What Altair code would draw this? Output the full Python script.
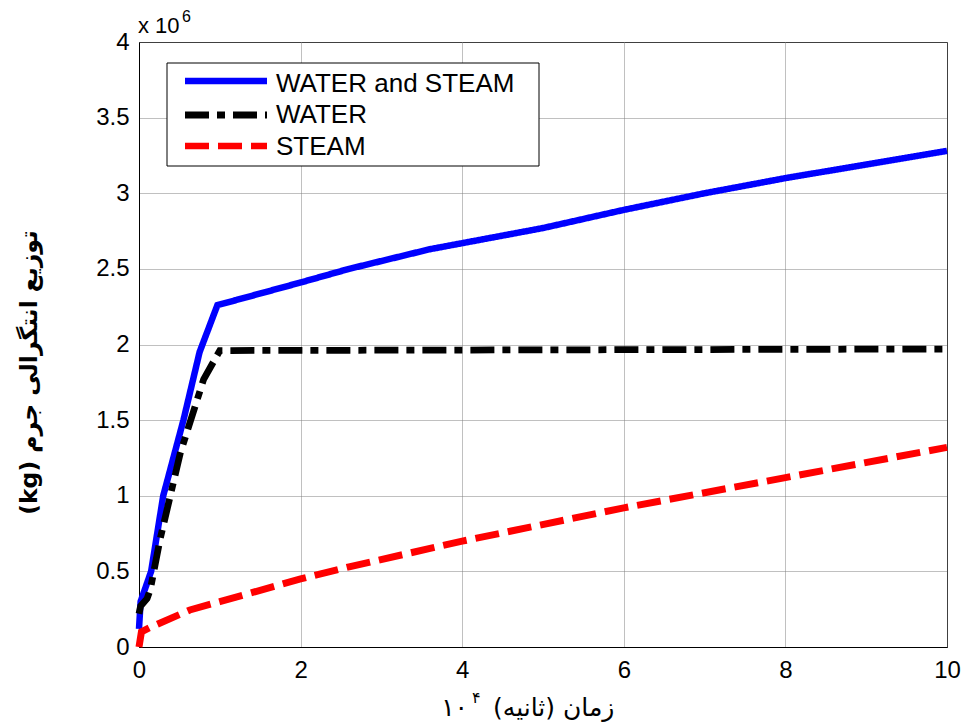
import altair as alt
import pandas as pd

# ---- data (time in 10^4 s, mass in 10^6 kg) ----
series_names = ["WATER and STEAM", "WATER", "STEAM"]

ws_t = [0.0, 0.02, 0.15, 0.30, 0.55, 0.75, 0.97, 2.0, 2.6, 3.6, 5.0, 6.0, 7.0, 8.0, 9.0, 10.0]
ws_m = [0.12, 0.30, 0.50, 1.00, 1.50, 1.95, 2.26, 2.41, 2.50, 2.63, 2.77, 2.89, 3.00, 3.10, 3.19, 3.28]

w_t = [0.0, 0.02, 0.10, 0.14, 0.26, 0.51, 0.80, 1.00, 10.0]
w_m = [0.22, 0.27, 0.32, 0.38, 0.71, 1.28, 1.77, 1.96, 1.97]

s_t = [0.0, 0.03, 0.14, 0.63, 1.0, 2.0, 2.6, 4.0, 6.0, 8.0, 10.0]
s_m = [0.0, 0.10, 0.13, 0.245, 0.30, 0.45, 0.53, 0.70, 0.92, 1.12, 1.32]

x_ticks = [0, 2, 4, 6, 8, 10]
y_ticks = [0, 0.5, 1, 1.5, 2, 2.5, 3, 3.5, 4]

colors = ["#0000ff", "#000000", "#ff0000"]
dashes = [[1, 0], [24, 8, 8, 8], [24, 9]]
widths = [6.5, 7.0, 6.5]

rows = []
for name, ts, ms in zip(series_names, [ws_t, w_t, s_t], [ws_m, w_m, s_m]):
    for i, (t, m) in enumerate(zip(ts, ms)):
        rows.append({"series": name, "t": t, "m": m, "i": i})
df = pd.DataFrame(rows)

W, H = 808, 605
TICK_FONT = "Liberation Sans"
TICK_SIZE = 24

lines = alt.Chart(df).mark_line(strokeCap="butt", strokeJoin="miter").encode(
    x=alt.X("t:Q",
            scale=alt.Scale(domain=[0, 10], nice=False, zero=False),
            axis=alt.Axis(values=x_ticks, title=None, labelExpr="datum.value + ''",
                          labelFont=TICK_FONT, labelFontSize=TICK_SIZE, labelColor="black",
                          labelPadding=11, labelFlush=False, ticks=False, tickSize=0,
                          domainColor="black", grid=True, gridColor="#808080",
                          gridDash=[1, 1], gridWidth=1)),
    y=alt.Y("m:Q",
            scale=alt.Scale(domain=[0, 4], nice=False, zero=False),
            axis=alt.Axis(values=y_ticks, labelExpr="datum.value + ''",
                          title="(kg) توزیع انتگرالی جرم",
                          titleFont="DejaVu Sans", titleFontSize=23.5, titleFontWeight="bold",
                          titleColor="black", titleAngle=270, titleX=-110, titleY=330,
                          titleAlign="center", titleBaseline="middle",
                          labelFont=TICK_FONT, labelFontSize=TICK_SIZE, labelColor="black",
                          labelPadding=10, labelFlush=False, ticks=False, tickSize=0,
                          domainColor="black", grid=True, gridColor="#808080",
                          gridDash=[1, 1], gridWidth=1)),
    color=alt.Color("series:N", scale=alt.Scale(domain=series_names, range=colors), legend=None),
    strokeDash=alt.StrokeDash("series:N", scale=alt.Scale(domain=series_names, range=dashes), legend=None),
    strokeWidth=alt.StrokeWidth("series:N", scale=alt.Scale(domain=series_names, range=widths), legend=None),
    order="i:Q",
)

# ---- manual legend ----
leg_box = alt.Chart(pd.DataFrame({"a": [0]})).mark_rect(
    fill="white", stroke="black", strokeWidth=1
).encode(x=alt.value(28), x2=alt.value(400), y=alt.value(21), y2=alt.value(124))

leg_rows_y = [39, 73, 104]
leg_text_y = [50, 81, 113]
legend_layers = [leg_box]
for name, c, d, w, ly, ty in zip(series_names, colors, dashes, widths, leg_rows_y, leg_text_y):
    legend_layers.append(
        alt.Chart(pd.DataFrame({"a": [0]})).mark_rule(
            color=c, strokeDash=d, strokeWidth=w, strokeCap="butt"
        ).encode(x=alt.value(46), x2=alt.value(128), y=alt.value(ly))
    )
    legend_layers.append(
        alt.Chart(pd.DataFrame({"a": [0]})).mark_text(
            text=name, font=TICK_FONT, fontSize=26, align="left", baseline="alphabetic", color="black"
        ).encode(x=alt.value(137), y=alt.value(ty))
    )

# ---- exponent labels and x title ----
def txt(s, x, y, size, align="left", font=TICK_FONT):
    return alt.Chart(pd.DataFrame({"a": [0]})).mark_text(
        text=s, font=font, fontSize=size, align=align, baseline="alphabetic", color="black"
    ).encode(x=alt.value(x), y=alt.value(y))

annot = [
    txt("x 10", -1, -9, 22),
    txt("6", 43, -20, 16),
    txt("زمان (ثانیه)", 354, 674, 25, font="DejaVu Sans"),
    txt("۱۰", 329, 674, 25, align="right", font="DejaVu Sans"),
    txt("۴", 333, 661, 16, font="DejaVu Sans"),
]

chart = alt.layer(lines, *legend_layers, *annot).properties(
    width=W, height=H,
    autosize=alt.AutoSizeParams(type="none"),
    padding={"left": 139, "top": 42, "right": 18, "bottom": 80},
    background="white",
).configure_view(stroke="black", strokeWidth=1)

chart.save("out.html", embed_options={"renderer": "svg", "actions": False})
